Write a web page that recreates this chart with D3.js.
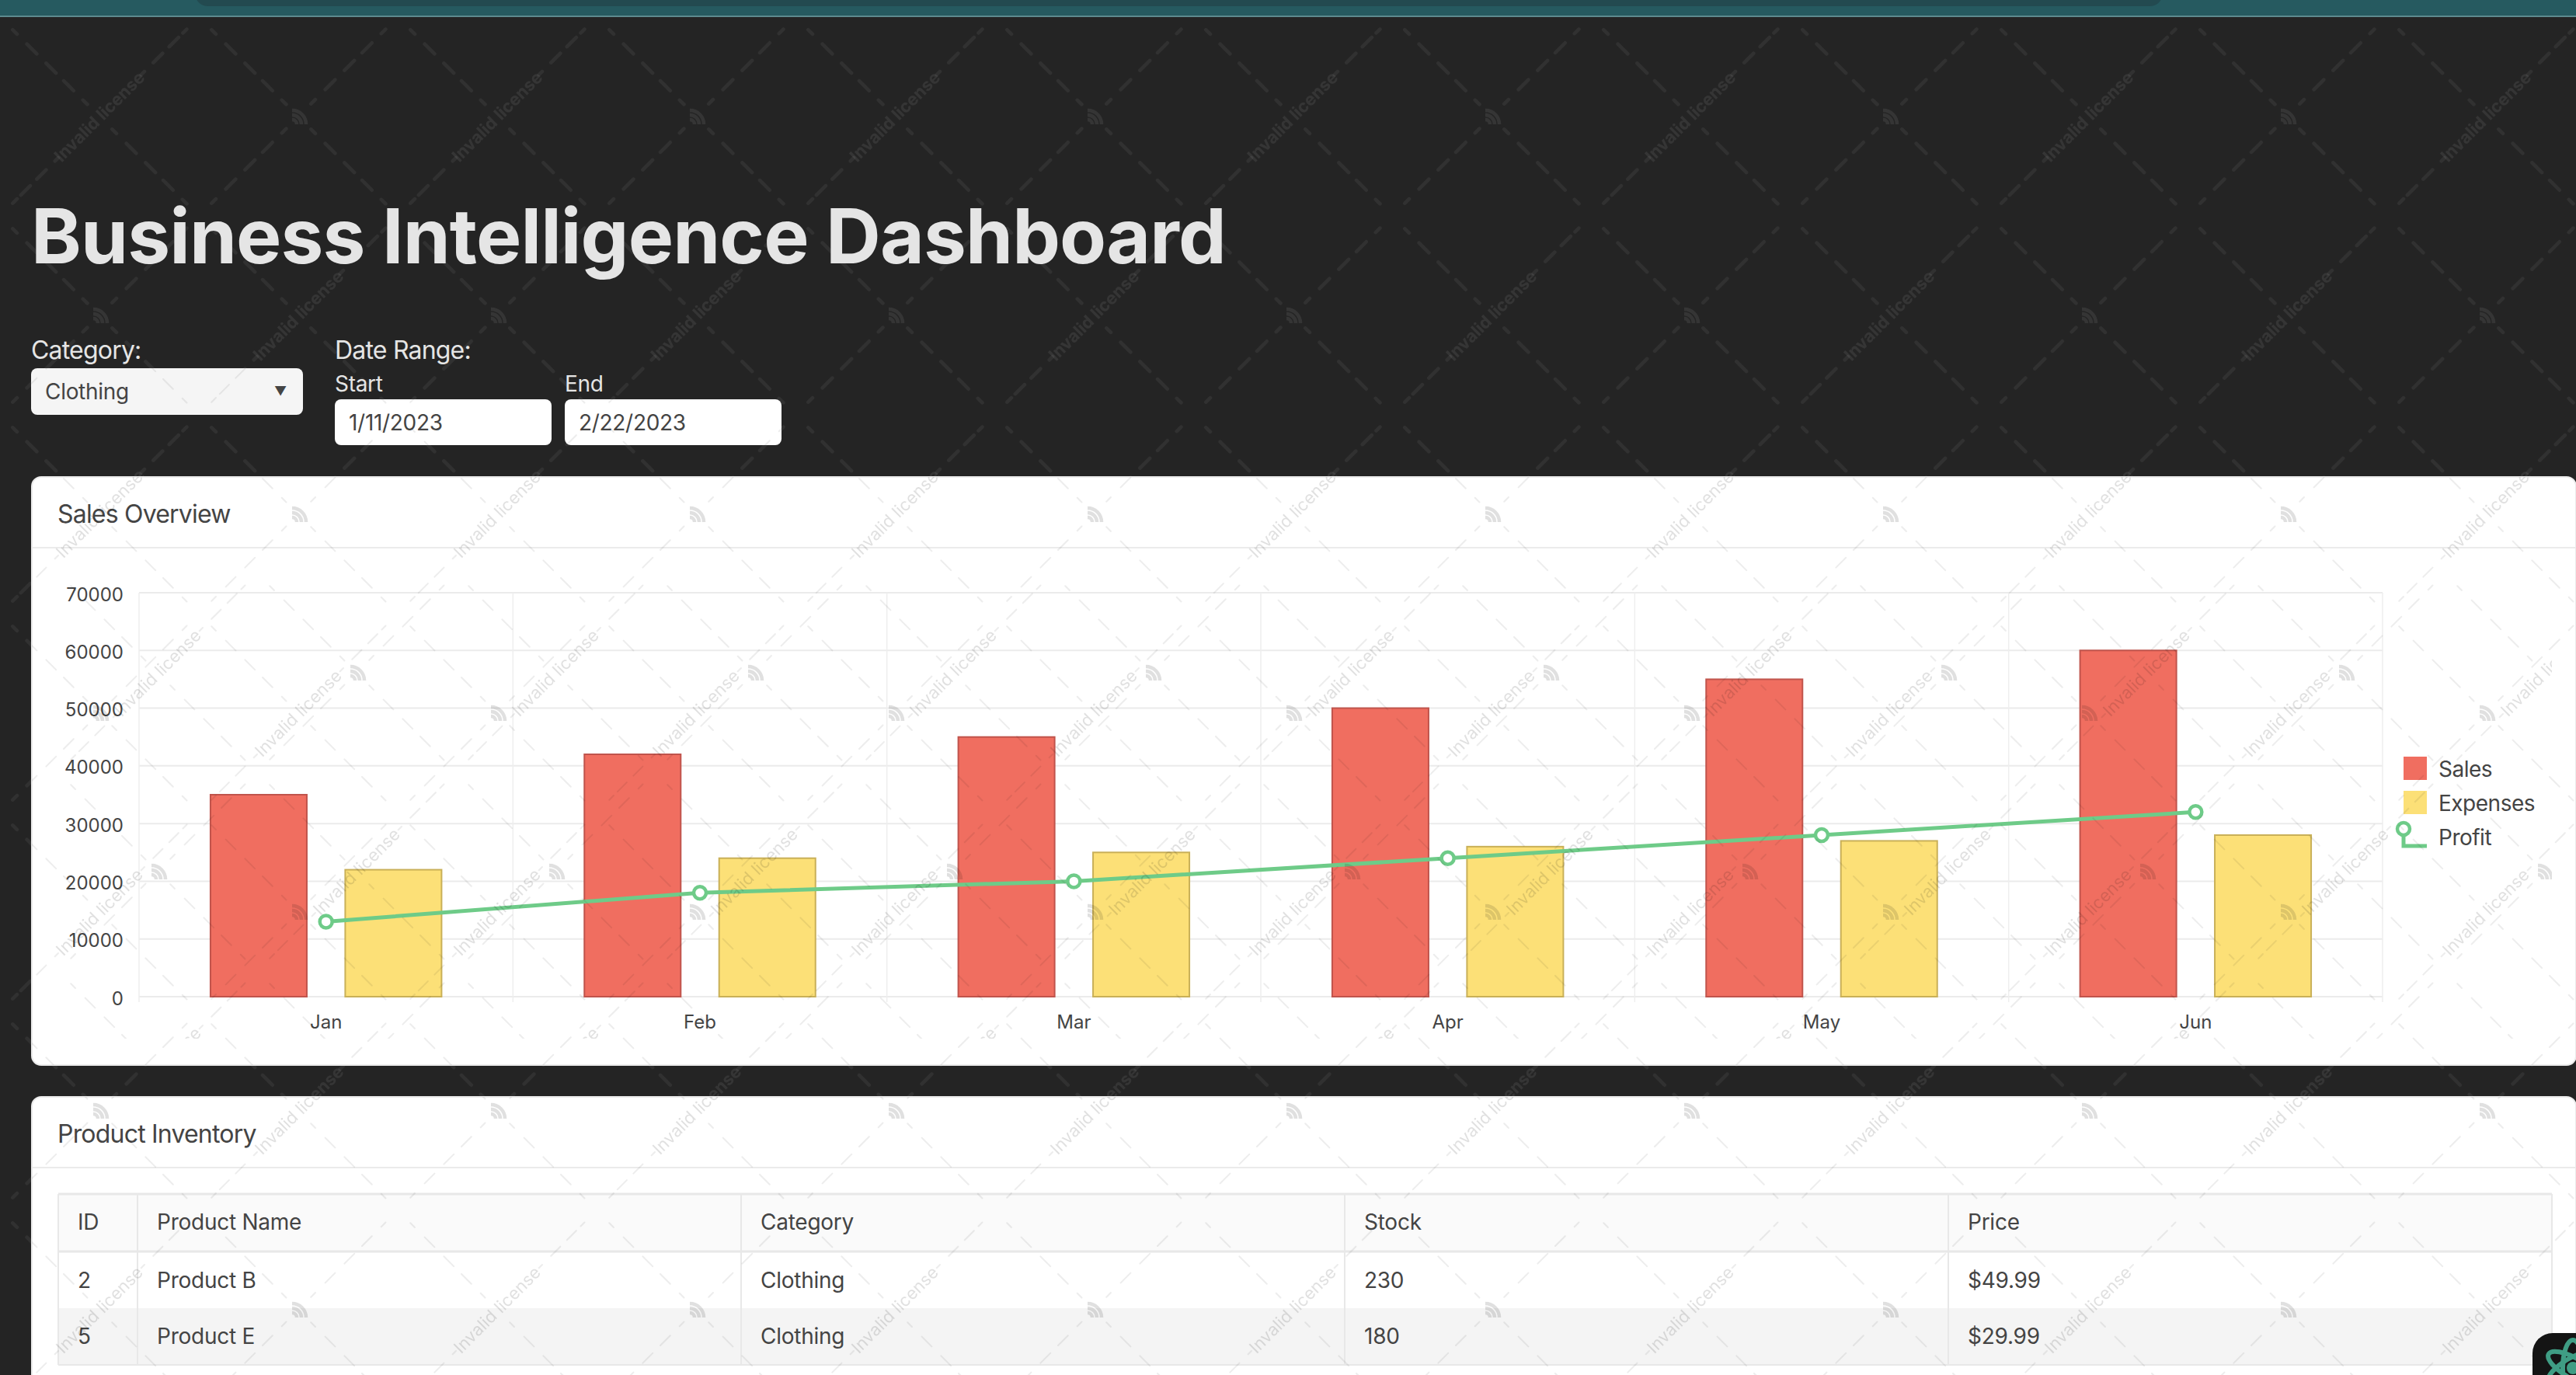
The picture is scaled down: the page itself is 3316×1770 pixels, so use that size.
<!DOCTYPE html>
<html>
<head>
<meta charset="utf-8">
<title>Business Intelligence Dashboard</title>
<script src="https://cdn.jsdelivr.net/npm/d3@7"></script>
<style>
  html, body { margin: 0; padding: 0; background: #242424; overflow: hidden; }
  svg { display: block; font-family: Inter, sans-serif; }
</style>
</head>
<body>
<svg id="page"></svg>
<script>
const months = ['Jan', 'Feb', 'Mar', 'Apr', 'May', 'Jun'];
const sales = [35000, 42000, 45000, 50000, 55000, 60000];
const expenses = [22000, 24000, 25000, 26000, 27000, 28000];
const profit = [13000, 18000, 20000, 24000, 28000, 32000];
const yTicks = [0, 10000, 20000, 30000, 40000, 50000, 60000, 70000];
const seriesNames = ['Sales', 'Expenses', 'Profit'];

const tableHeaders = ['ID', 'Product Name', 'Category', 'Stock', 'Price'];
const productIds = ['2', '5'];
const productNames = ['Product B', 'Product E'];
const productCategories = ['Clothing', 'Clothing'];
const productStock = ['230', '180'];
const productPrices = ['$49.99', '$29.99'];

const WIDTH = 3316;
const HEIGHT = 1770;
const TEXT = '#444444';
const LINE = '#ebebeb';
const GREEN = '#6ecb88';

const svg = d3.select('#page').attr('width', WIDTH).attr('height', HEIGHT);
const defs = svg.append('defs');

// One watermark tile: dashed lattice, the text and the little logo
function addWatermark(id, x, y, stroke, strokeWidth, textFill, textWeight) {
  const tile = defs.append('pattern')
    .attr('id', id)
    .attr('patternUnits', 'userSpaceOnUse')
    .attr('x', x).attr('y', y)
    .attr('width', 512).attr('height', 512);

  const dashes = d3.path();
  const segment = (cx, cy, dx, dy, from, to) => {
    dashes.moveTo(cx + dx * from, cy + dy * from);
    dashes.lineTo(cx + dx * to, cy + dy * to);
  };
  const k = Math.SQRT1_2;
  const isText = (i, j) => (i % 4 === 1 && j % 4 === 1) || (i % 4 === 3 && j % 4 === 3);

  for (let i = -2; i <= 6; i++) {
    for (let j = -2; j <= 6; j++) {
      if ((i + j) % 2 !== 0) continue;
      [[k, k], [k, -k]].forEach(([dx, dy]) => {
        const cx = i * 128;
        const cy = j * 128;
        const upFromText = dy < 0 && isText(i, j);
        const downToText = dy < 0 && isText(i + 1, j - 1);
        let stops = [[23, 31], [49, 67], [84, 102], [116, 134], [151, 159]];
        if (upFromText) stops = [[76, 82], [98, 115], [127, 144], [152, 159]];
        if (downToText) stops = [[23, 31], [38, 55], [67, 84], [100, 106]];
        stops.forEach(s => segment(cx, cy, dx, dy, s[0], s[1]));
      });
    }
  }

  tile.append('path')
    .attr('d', dashes.toString())
    .attr('fill', 'none')
    .attr('stroke', stroke)
    .attr('stroke-width', strokeWidth)
    .attr('stroke-linecap', 'round');

  [[128, 128], [384, 384]].forEach(p => {
    tile.append('text')
      .attr('transform', `translate(${p[0]},${p[1]}) rotate(-45)`)
      .attr('text-anchor', 'middle')
      .attr('dy', '0.35em')
      .attr('font-size', 22)
      .attr('font-weight', textWeight)
      .attr('fill', textFill)
      .text('Invalid license');
  });

  [[384, 128], [128, 384]].forEach(p => {
    const logo = tile.append('g').attr('transform', `translate(${p[0]},${p[1]})`);
    [6, 12, 18].forEach(r => {
      logo.append('path')
        .attr('d', `M${-8},${10 - r} A${r},${r} 0 0 1 ${-8 + r},${10}`)
        .attr('fill', 'none')
        .attr('stroke', textFill)
        .attr('stroke-width', 4.5);
    });
  });
}

addWatermark('wm-dark', 0, 22, 'rgba(255,255,255,0.06)', 4.5, 'rgba(255,255,255,0.08)', 700);
addWatermark('wm-light', 0, 22, 'rgba(0,0,0,0.07)', 2, 'rgba(0,0,0,0.12)', 400);
addWatermark('wm-chart', 75, 738, 'rgba(0,0,0,0.07)', 2, 'rgba(0,0,0,0.12)', 400);

// Page background and the strip of the window above it
svg.append('rect').attr('width', WIDTH).attr('height', HEIGHT).attr('fill', '#242424');
svg.append('rect').attr('y', 22).attr('width', WIDTH).attr('height', HEIGHT - 22).attr('fill', 'url(#wm-dark)');
svg.append('rect').attr('width', WIDTH).attr('height', 20).attr('fill', '#265a60');
svg.append('rect').attr('y', 20).attr('width', WIDTH).attr('height', 2).attr('fill', '#5d8a8e');
svg.append('rect').attr('x', 252).attr('y', -20).attr('width', 2531).attr('height', 28).attr('rx', 16).attr('fill', '#234a50');

// Title and filters
svg.append('text')
  .attr('x', 40).attr('y', 339)
  .attr('font-size', 98).attr('font-weight', 700)
  .attr('letter-spacing', -0.85)
  .attr('fill', '#e5e5e5')
  .text('Business Intelligence Dashboard');

function label(x, y, size, fill, text) {
  return svg.append('text')
    .attr('x', x).attr('y', y)
    .attr('font-size', size)
    .attr('letter-spacing', size >= 32 ? -0.8 : -0.3)
    .attr('fill', fill)
    .text(text);
}

function field(x, y, width, height, fill) {
  return svg.append('rect')
    .attr('x', x).attr('y', y)
    .attr('width', width).attr('height', height)
    .attr('rx', 8)
    .attr('fill', fill);
}

label(40, 462, 32, '#e5e5e5', 'Category:');
label(431, 462, 32, '#e5e5e5', 'Date Range:');
label(431, 504, 28, '#e5e5e5', 'Start');
label(727, 504, 28, '#e5e5e5', 'End');

field(40, 474, 350, 60, '#f5f5f5');
field(431, 514, 279, 59, '#ffffff');
field(727, 514, 279, 59, '#ffffff');
label(58, 514, 28, TEXT, 'Clothing');
label(449, 554, 28, TEXT, '1/11/2023');
label(745, 554, 28, TEXT, '2/22/2023');
label(361, 509, 16, TEXT, '\u25BC').attr('text-anchor', 'middle');

// Cards
function card(y, height, title, titleY, dividerY) {
  svg.append('rect')
    .attr('x', 41).attr('y', y)
    .attr('width', WIDTH - 41).attr('height', height)
    .attr('rx', 12)
    .attr('fill', '#ffffff')
    .attr('stroke', LINE)
    .attr('stroke-width', 2);
  svg.append('line')
    .attr('x1', 41).attr('x2', WIDTH)
    .attr('y1', dividerY).attr('y2', dividerY)
    .attr('stroke', LINE)
    .attr('stroke-width', 2);
  label(74, titleY, 32, TEXT, title);
}

card(614, 757, 'Sales Overview', 673, 705);
card(1412, 420, 'Product Inventory', 1471, 1503);

// Chart scales
const plot = { left: 179, right: 3067, top: 763, bottom: 1283 };

const x = d3.scaleBand().domain(months).range([plot.left, plot.right]);
const xInner = d3.scaleBand()
  .domain(seriesNames.slice(0, 2))
  .range([0, x.bandwidth()])
  .paddingInner(0.285)
  .paddingOuter(0.53);
const y = d3.scaleLinear().domain([0, 70000]).range([plot.bottom, plot.top]);

const chart = svg.append('g');

// Grid
chart.append('g')
  .selectAll('line')
  .data(yTicks)
  .join('line')
  .attr('x1', plot.left).attr('x2', plot.right)
  .attr('y1', d => y(d)).attr('y2', d => y(d))
  .attr('stroke', LINE)
  .attr('stroke-width', 2);

chart.append('g')
  .selectAll('line')
  .data(months.map(m => x(m)).concat(plot.right))
  .join('line')
  .attr('x1', d => d).attr('x2', d => d)
  .attr('y1', plot.top).attr('y2', plot.bottom + 7)
  .attr('stroke', '#eeeeee')
  .attr('stroke-width', 1.5);

// Axes
const yAxis = chart.append('g')
  .attr('transform', `translate(${plot.left},0)`)
  .call(d3.axisLeft(y).tickValues(yTicks).tickSize(0).tickPadding(20).tickFormat(d3.format('d')));

const xAxis = chart.append('g')
  .attr('transform', `translate(0,${plot.bottom})`)
  .call(d3.axisBottom(x).tickSize(0).tickPadding(24));

[yAxis, xAxis].forEach(axis => {
  axis.select('.domain').remove();
  axis.selectAll('text')
    .attr('font-family', 'Inter, sans-serif')
    .attr('font-size', 24)
    .attr('fill', TEXT);
});
yAxis.selectAll('text').attr('dy', '0.42em');

// Bars
const barSeries = [
  { name: 'Sales', values: sales, fill: '#f06e60', stroke: '#c0544c' },
  { name: 'Expenses', values: expenses, fill: '#fce077', stroke: '#c9b058' }
];

barSeries.forEach(series => {
  chart.append('g')
    .selectAll('rect')
    .data(series.values)
    .join('rect')
    .attr('x', (d, i) => x(months[i]) + xInner(series.name))
    .attr('y', d => y(d))
    .attr('width', xInner.bandwidth())
    .attr('height', d => y(0) - y(d))
    .attr('fill', series.fill)
    .attr('stroke', series.stroke)
    .attr('stroke-width', 2);
});

// Profit line
const center = i => x(months[i]) + x.bandwidth() / 2;
const profitLine = d3.line()
  .x((d, i) => center(i))
  .y(d => y(d));

chart.append('path')
  .datum(profit)
  .attr('d', profitLine)
  .attr('fill', 'none')
  .attr('stroke', GREEN)
  .attr('stroke-width', 5);

chart.append('g')
  .selectAll('circle')
  .data(profit)
  .join('circle')
  .attr('cx', (d, i) => center(i))
  .attr('cy', d => y(d))
  .attr('r', 8)
  .attr('fill', '#ffffff')
  .attr('stroke', GREEN)
  .attr('stroke-width', 4.5);

// Legend
const legend = svg.append('g').attr('transform', 'translate(3094,974)');
const legendStep = 44;

barSeries.forEach((series, i) => {
  legend.append('rect')
    .attr('y', i * legendStep)
    .attr('width', 30).attr('height', 30)
    .attr('fill', series.fill);
});

legend.append('path')
  .attr('d', 'M0,93 V115 H30')
  .attr('fill', 'none')
  .attr('stroke', GREEN)
  .attr('stroke-width', 5);

legend.append('circle')
  .attr('cy', 93).attr('r', 8)
  .attr('fill', '#ffffff')
  .attr('stroke', GREEN)
  .attr('stroke-width', 4.5);

legend.selectAll('text')
  .data(seriesNames)
  .join('text')
  .attr('x', 45)
  .attr('y', (d, i) => 26 + i * legendStep)
  .attr('font-size', 28)
  .attr('letter-spacing', -0.5)
  .attr('fill', TEXT)
  .text(d => d);

// Table
const columnEdges = [75, 177, 954, 1731, 2508, 3285];
const rowEdges = [1537, 1611, 1684, 1757];
const columns = [productIds, productNames, productCategories, productStock, productPrices];
const rowBaselines = [1658, 1730];
const table = svg.append('g');

table.append('rect')
  .attr('x', columnEdges[0]).attr('y', rowEdges[0])
  .attr('width', columnEdges[5] - columnEdges[0]).attr('height', rowEdges[1] - rowEdges[0])
  .attr('fill', '#fafafa');

table.append('rect')
  .attr('x', columnEdges[0]).attr('y', rowEdges[2])
  .attr('width', columnEdges[5] - columnEdges[0]).attr('height', rowEdges[3] - rowEdges[2])
  .attr('fill', '#f4f4f4');

table.selectAll('line.column')
  .data(columnEdges)
  .join('line')
  .attr('class', 'column')
  .attr('x1', d => d).attr('x2', d => d)
  .attr('y1', rowEdges[0]).attr('y2', rowEdges[3])
  .attr('stroke', '#e8e8e8')
  .attr('stroke-width', 2);

table.selectAll('line.row')
  .data([rowEdges[0], rowEdges[1], rowEdges[3]])
  .join('line')
  .attr('class', 'row')
  .attr('x1', columnEdges[0]).attr('x2', columnEdges[5])
  .attr('y1', d => d).attr('y2', d => d)
  .attr('stroke', '#e8e8e8')
  .attr('stroke-width', (d, i) => (i === 2 ? 2 : 3));

tableHeaders.forEach((header, c) => {
  const tx = columnEdges[c] + 25;
  table.append('text')
    .attr('x', tx).attr('y', 1583)
    .attr('font-size', 28)
    .attr('letter-spacing', -0.25)
    .attr('fill', TEXT)
    .text(header);
  columns[c].forEach((value, r) => {
    table.append('text')
      .attr('x', tx).attr('y', rowBaselines[r])
      .attr('font-size', 28)
      .attr('letter-spacing', -0.25)
      .attr('fill', TEXT)
      .text(value);
  });
});

// Watermarks sit on top of the cards and the fields
const lightAreas = [
  [41, 614, WIDTH - 41, 757],
  [41, 1412, WIDTH - 41, 358],
  [40, 474, 350, 60],
  [431, 514, 279, 59],
  [727, 514, 279, 59]
];

svg.append('g')
  .selectAll('rect')
  .data(lightAreas)
  .join('rect')
  .attr('x', d => d[0]).attr('y', d => d[1])
  .attr('width', d => d[2]).attr('height', d => d[3])
  .attr('rx', 10)
  .attr('fill', 'url(#wm-light)');

svg.append('rect')
  .attr('x', 75).attr('y', 738)
  .attr('width', 3210).attr('height', 599)
  .attr('fill', 'url(#wm-chart)');

// Floating badge in the corner
const badge = svg.append('g');
badge.append('rect')
  .attr('x', 3260).attr('y', 1716)
  .attr('width', 110).attr('height', 110)
  .attr('rx', 26)
  .attr('fill', '#141414');
const atom = badge.append('g').attr('transform', 'translate(3312,1761)');
[-30, 30, 90].forEach(angle => {
  atom.append('ellipse')
    .attr('rx', 36).attr('ry', 13)
    .attr('transform', `rotate(${angle})`)
    .attr('fill', 'none')
    .attr('stroke', '#3f9d84')
    .attr('stroke-width', 6);
});
atom.append('circle').attr('r', 8).attr('fill', '#3f9d84');
</script>
</body>
</html>
